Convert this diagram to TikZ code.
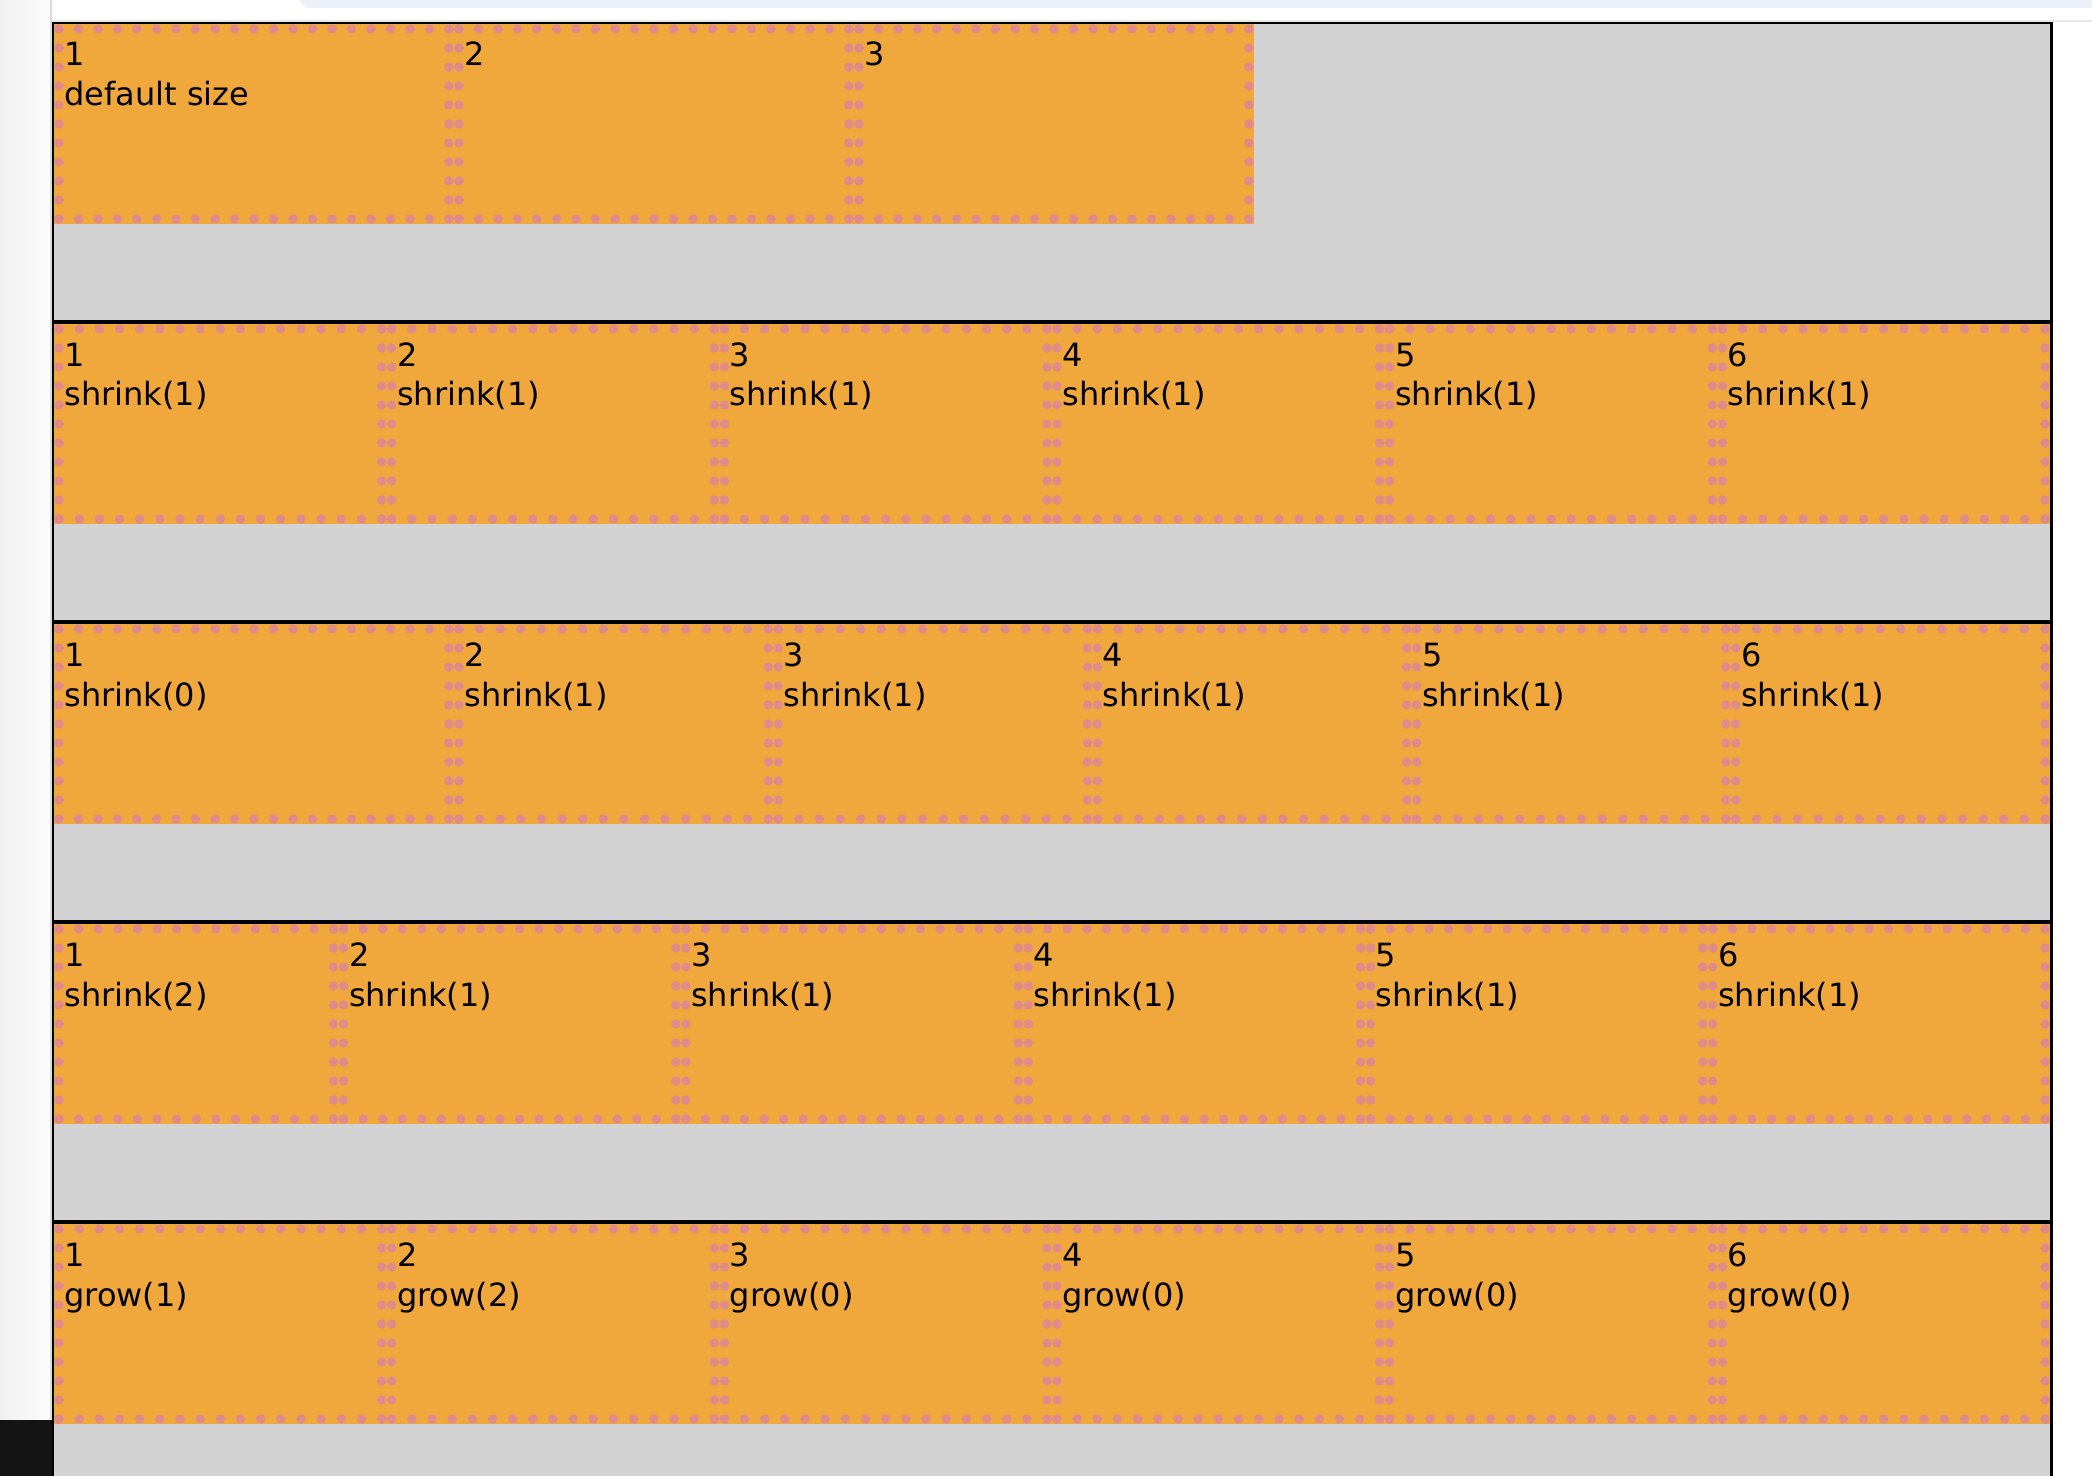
\documentclass[tikz,border=0pt]{standalone}
\usepackage{fontspec}
\setmainfont{DejaVu Sans}
\definecolor{itemorange}{RGB}{240,168,60}
\definecolor{itemdot}{RGB}{225,138,138}
\definecolor{rowgray}{RGB}{211,211,211}
\definecolor{tabblue}{RGB}{236,241,249}

\newcommand{\dotline}[5]{%
  \foreach \k in {0,...,#5}
    \fill[itemdot] ({(#1)+((#3)-(#1))*\k/(#5)},{(#2)+((#4)-(#2))*\k/(#5)}) circle[radius=2.35pt];
}
\newcommand{\flexitem}[6]{%
  \fill[itemorange] (#1,#3+2) rectangle (#2,#3+202);
  \pgfmathtruncatemacro{\hgap}{floor((#2-#1-10)/20+0.5)}
  \dotline{#1+5}{#3+7}{#2-5}{#3+7}{\hgap}
  \dotline{#1+5}{#3+197}{#2-5}{#3+197}{\hgap}
  \dotline{#1+5}{#3+7}{#1+5}{#3+197}{10}
  \dotline{#2-5}{#3+7}{#2-5}{#3+197}{10}
  \node[itemtext] (#4n) at (#1+10,#3+44) {#5};
  \node[itemtext] (#4l) at (#1+10,#3+84) {#6};
}

\begin{document}
\begin{tikzpicture}[x=0.5pt,y=-0.5pt,
  itemtext/.style={anchor=base west,inner sep=0pt,font=\fontsize{16}{19}\selectfont},
  rowline/.style={line width=1pt,black}]
\useasboundingbox (0,0) rectangle (2092,1476);
\fill[white] (0,0) rectangle (2092,1476);
\shade[left color=gray!12,right color=gray!3] (0,0) rectangle (50,1476);
\fill[gray!28] (50,0) rectangle (52,1476);
\fill[black!92] (0,1420) rectangle (52,1476);
\fill[tabblue,rounded corners=5pt] (300,-20) rectangle (2110,8);
\draw[gray!18,line width=1pt] (52,21) -- (2092,21);

\fill[rowgray] (53,23) rectangle (2051,1476);

\flexitem{54}{454}{22}{a1}{1}{default size}
\flexitem{454}{854}{22}{a2}{2}{}
\flexitem{854}{1254}{22}{a3}{3}{}

\flexitem{54}{386.67}{322}{b1}{1}{shrink(1)}
\flexitem{386.67}{719.33}{322}{b2}{2}{shrink(1)}
\flexitem{719.33}{1052}{322}{b3}{3}{shrink(1)}
\flexitem{1052}{1384.67}{322}{b4}{4}{shrink(1)}
\flexitem{1384.67}{1717.33}{322}{b5}{5}{shrink(1)}
\flexitem{1717.33}{2050}{322}{b6}{6}{shrink(1)}

\flexitem{54}{454}{622}{c1}{1}{shrink(0)}
\flexitem{454}{773.2}{622}{c2}{2}{shrink(1)}
\flexitem{773.2}{1092.4}{622}{c3}{3}{shrink(1)}
\flexitem{1092.4}{1411.6}{622}{c4}{4}{shrink(1)}
\flexitem{1411.6}{1730.8}{622}{c5}{5}{shrink(1)}
\flexitem{1730.8}{2050}{622}{c6}{6}{shrink(1)}

\flexitem{54}{338.6}{922}{d1}{1}{shrink(2)}
\flexitem{338.6}{680.9}{922}{d2}{2}{shrink(1)}
\flexitem{680.9}{1023.2}{922}{d3}{3}{shrink(1)}
\flexitem{1023.2}{1365.5}{922}{d4}{4}{shrink(1)}
\flexitem{1365.5}{1707.7}{922}{d5}{5}{shrink(1)}
\flexitem{1707.7}{2050}{922}{d6}{6}{shrink(1)}

\flexitem{54}{386.67}{1222}{e1}{1}{grow(1)}
\flexitem{386.67}{719.33}{1222}{e2}{2}{grow(2)}
\flexitem{719.33}{1052}{1222}{e3}{3}{grow(0)}
\flexitem{1052}{1384.67}{1222}{e4}{4}{grow(0)}
\flexitem{1384.67}{1717.33}{1222}{e5}{5}{grow(0)}
\flexitem{1717.33}{2050}{1222}{e6}{6}{grow(0)}

\draw[rowline] (53,1476) -- (53,23) -- (2051.5,23) -- (2051.5,1476);
\draw[rowline,line width=1.75pt] (53,321.8) -- (2051.5,321.8);
\draw[rowline,line width=1.75pt] (53,621.8) -- (2051.5,621.8);
\draw[rowline,line width=1.75pt] (53,921.8) -- (2051.5,921.8);
\draw[rowline,line width=1.75pt] (53,1221.8) -- (2051.5,1221.8);
\draw[rowline,line width=1.5pt] (2051.5,23) -- (2051.5,1476);
\end{tikzpicture}
\end{document}
